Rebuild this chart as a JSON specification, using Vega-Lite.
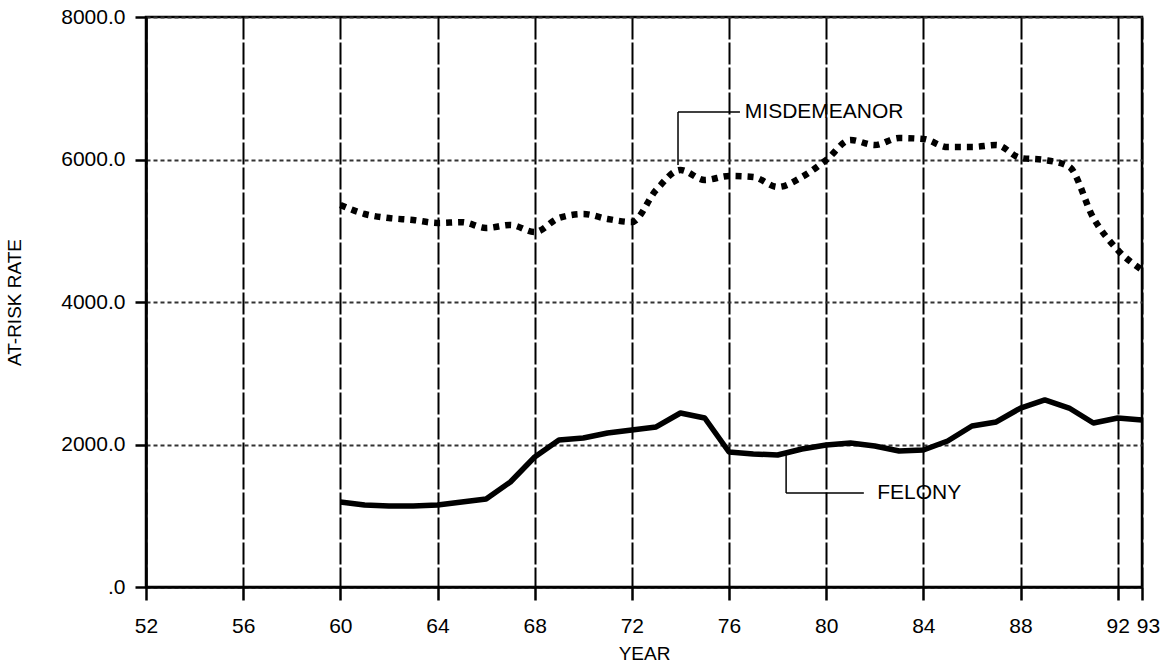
{
  "$schema": "https://vega.github.io/schema/vega-lite/v6.json",
  "width": 996,
  "height": 570,
  "autosize": "none",
  "padding": {"left": 146, "top": 17, "right": 19, "bottom": 79},
  "background": "white",
  "config": {
    "font": "Liberation Sans",
    "view": {"stroke": "black", "strokeWidth": 2.5},
    "axis": {
      "labelFont": "Liberation Sans",
      "titleFont": "Liberation Sans",
      "labelColor": "black",
      "titleColor": "black",
      "titleFontWeight": "normal",
      "domainColor": "black",
      "domainWidth": 2.5,
      "tickColor": "black",
      "tickWidth": 2.5,
      "gridColor": "black"
    }
  },
  "datasets": {
    "rates": [
      {"year": 60, "series": "Misdemeanor", "rate": 5361},
      {"year": 61, "series": "Misdemeanor", "rate": 5235},
      {"year": 62, "series": "Misdemeanor", "rate": 5179},
      {"year": 63, "series": "Misdemeanor", "rate": 5151},
      {"year": 64, "series": "Misdemeanor", "rate": 5109},
      {"year": 65, "series": "Misdemeanor", "rate": 5120},
      {"year": 66, "series": "Misdemeanor", "rate": 5039},
      {"year": 67, "series": "Misdemeanor", "rate": 5081},
      {"year": 68, "series": "Misdemeanor", "rate": 4982},
      {"year": 69, "series": "Misdemeanor", "rate": 5179},
      {"year": 70, "series": "Misdemeanor", "rate": 5235},
      {"year": 71, "series": "Misdemeanor", "rate": 5165},
      {"year": 72, "series": "Misdemeanor", "rate": 5123},
      {"year": 73, "series": "Misdemeanor", "rate": 5572},
      {"year": 74, "series": "Misdemeanor", "rate": 5853},
      {"year": 75, "series": "Misdemeanor", "rate": 5712},
      {"year": 76, "series": "Misdemeanor", "rate": 5768},
      {"year": 77, "series": "Misdemeanor", "rate": 5754},
      {"year": 78, "series": "Misdemeanor", "rate": 5614},
      {"year": 79, "series": "Misdemeanor", "rate": 5754},
      {"year": 80, "series": "Misdemeanor", "rate": 5993},
      {"year": 81, "series": "Misdemeanor", "rate": 6274},
      {"year": 82, "series": "Misdemeanor", "rate": 6203},
      {"year": 83, "series": "Misdemeanor", "rate": 6302},
      {"year": 84, "series": "Misdemeanor", "rate": 6288},
      {"year": 85, "series": "Misdemeanor", "rate": 6175},
      {"year": 86, "series": "Misdemeanor", "rate": 6175},
      {"year": 87, "series": "Misdemeanor", "rate": 6203},
      {"year": 88, "series": "Misdemeanor", "rate": 6021},
      {"year": 89, "series": "Misdemeanor", "rate": 5993},
      {"year": 90, "series": "Misdemeanor", "rate": 5900},
      {"year": 91, "series": "Misdemeanor", "rate": 5179},
      {"year": 92, "series": "Misdemeanor", "rate": 4730},
      {"year": 93, "series": "Misdemeanor", "rate": 4449},
      {"year": 60, "series": "Felony", "rate": 1193},
      {"year": 61, "series": "Felony", "rate": 1151},
      {"year": 62, "series": "Felony", "rate": 1137},
      {"year": 63, "series": "Felony", "rate": 1137},
      {"year": 64, "series": "Felony", "rate": 1151},
      {"year": 65, "series": "Felony", "rate": 1193},
      {"year": 66, "series": "Felony", "rate": 1235},
      {"year": 67, "series": "Felony", "rate": 1474},
      {"year": 68, "series": "Felony", "rate": 1825},
      {"year": 69, "series": "Felony", "rate": 2063},
      {"year": 70, "series": "Felony", "rate": 2091},
      {"year": 71, "series": "Felony", "rate": 2161},
      {"year": 72, "series": "Felony", "rate": 2203},
      {"year": 73, "series": "Felony", "rate": 2246},
      {"year": 74, "series": "Felony", "rate": 2442},
      {"year": 75, "series": "Felony", "rate": 2372},
      {"year": 76, "series": "Felony", "rate": 1895},
      {"year": 77, "series": "Felony", "rate": 1867},
      {"year": 78, "series": "Felony", "rate": 1853},
      {"year": 79, "series": "Felony", "rate": 1937},
      {"year": 80, "series": "Felony", "rate": 1993},
      {"year": 81, "series": "Felony", "rate": 2021},
      {"year": 82, "series": "Felony", "rate": 1979},
      {"year": 83, "series": "Felony", "rate": 1909},
      {"year": 84, "series": "Felony", "rate": 1923},
      {"year": 85, "series": "Felony", "rate": 2049},
      {"year": 86, "series": "Felony", "rate": 2260},
      {"year": 87, "series": "Felony", "rate": 2316},
      {"year": 88, "series": "Felony", "rate": 2512},
      {"year": 89, "series": "Felony", "rate": 2625},
      {"year": 90, "series": "Felony", "rate": 2512},
      {"year": 91, "series": "Felony", "rate": 2302},
      {"year": 92, "series": "Felony", "rate": 2372},
      {"year": 93, "series": "Felony", "rate": 2344}
    ],
    "leaders": [
      {"x1": 73.9, "x2": 73.9, "y1": 5923, "y2": 6667},
      {"x1": 73.9, "x2": 76.45, "y1": 6667, "y2": 6667},
      {"x1": 78.35, "x2": 78.35, "y1": 1881, "y2": 1319},
      {"x1": 78.35, "x2": 81.55, "y1": 1319, "y2": 1319}
    ],
    "labels": [
      {"x": 76.65, "y": 6667, "label": "MISDEMEANOR"},
      {"x": 82.1, "y": 1319, "label": "FELONY"}
    ]
  },
  "layer": [
    {
      "data": {"name": "rates"},
      "transform": [{"filter": "datum.series === 'Felony'"}],
      "mark": {"type": "line", "color": "black", "strokeWidth": 5.5, "strokeJoin": "round"},
      "encoding": {
        "x": {
          "field": "year",
          "type": "quantitative",
          "scale": {"domain": [52, 93], "nice": false, "zero": false},
          "axis": {
            "title": "YEAR",
            "values": [52, 56, 60, 64, 68, 72, 76, 80, 84, 88, 92, 93],
            "labelFontSize": 21,
            "titleFontSize": 19,
            "tickSize": 13,
            "labelPadding": 15,
            "titlePadding": 8,
            "grid": true,
            "gridWidth": 2,
            "gridDash": [22, 3],
            "labelFlush": false,
            "labelOverlap": false,
            "labelOffset": {"condition": {"test": "datum.value == 93", "value": 6}, "value": 0}
          }
        },
        "y": {
          "field": "rate",
          "type": "quantitative",
          "scale": {"domain": [0, 8000], "nice": false},
          "axis": {
            "title": "AT-RISK RATE",
            "values": [0, 2000, 4000, 6000, 8000],
            "labelExpr": "datum.value == 0 ? '.0' : format(datum.value, '.1f')",
            "labelFontSize": 21,
            "titleFontSize": 19,
            "tickSize": 11,
            "labelPadding": 10,
            "titlePadding": 36,
            "grid": true,
            "gridWidth": 1.8,
            "gridDash": [4, 3],
            "gridColor": "#333333"
          }
        }
      }
    },
    {
      "data": {"name": "rates"},
      "transform": [{"filter": "datum.series === 'Misdemeanor'"}],
      "mark": {"type": "line", "color": "black", "strokeWidth": 6.5, "strokeDash": [6, 6], "strokeCap": "butt", "interpolate": "monotone"},
      "encoding": {
        "x": {"field": "year", "type": "quantitative"},
        "y": {"field": "rate", "type": "quantitative"}
      }
    },
    {
      "data": {"name": "leaders"},
      "mark": {"type": "rule", "color": "black", "strokeWidth": 1.5},
      "encoding": {
        "x": {"field": "x1", "type": "quantitative"},
        "x2": {"field": "x2"},
        "y": {"field": "y1", "type": "quantitative"},
        "y2": {"field": "y2"}
      }
    },
    {
      "data": {"name": "labels"},
      "mark": {"type": "text", "align": "left", "baseline": "middle", "fontSize": 21, "color": "black", "font": "Liberation Sans"},
      "encoding": {
        "x": {"field": "x", "type": "quantitative"},
        "y": {"field": "y", "type": "quantitative"},
        "text": {"field": "label"}
      }
    }
  ]
}
